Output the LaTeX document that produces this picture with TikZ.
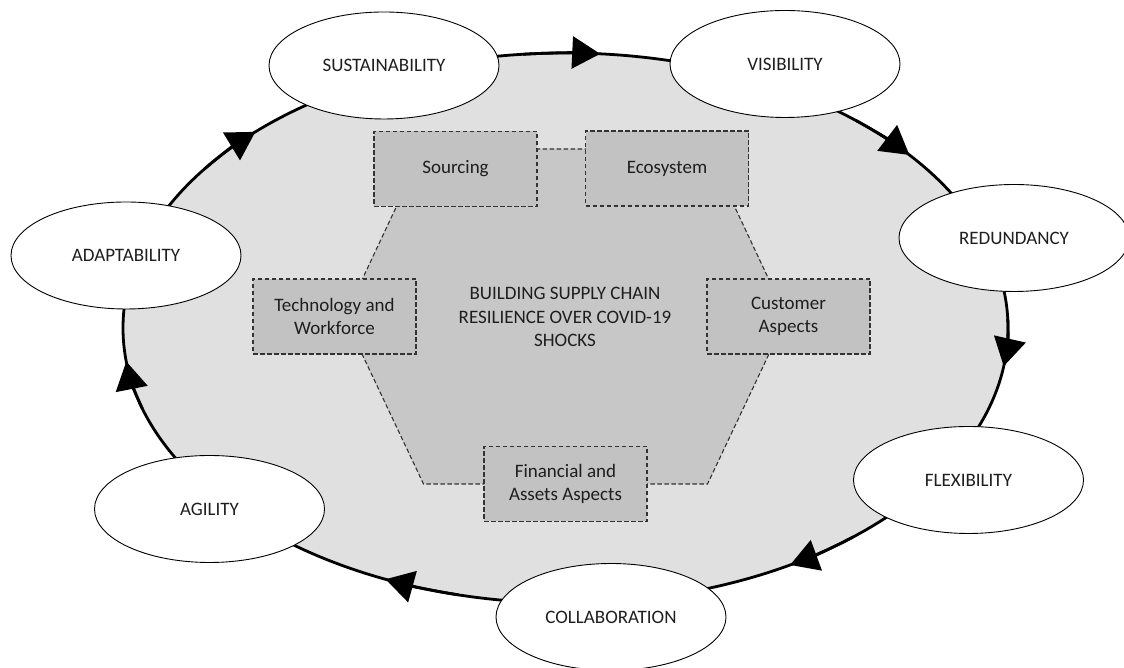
\documentclass[tikz,border=0pt]{standalone}
\usepackage{fontspec}
\setmainfont{Carlito}
\usetikzlibrary{shapes.geometric,arrows.meta,calc}
\definecolor{ringfill}{HTML}{E0E0E0}
\definecolor{hexfill}{HTML}{C7C7C7}
\definecolor{boxfill}{HTML}{C2C2C2}
\definecolor{inkgray}{HTML}{333333}
\definecolor{txt}{HTML}{1E1E1E}

\begin{document}
\begin{tikzpicture}[x=1pt,y=1pt,
  every node/.style={font=\fontsize{19}{23.5}\selectfont, text=txt},
  ring/.style={ellipse, draw=black, line width=2.8pt, fill=ringfill,
    minimum width=885pt, minimum height=550pt, inner sep=0pt},
  quality/.style={ellipse, draw=black, line width=0.9pt, fill=white,
    minimum width=230pt, minimum height=107pt, inner sep=0pt},
  dashedge/.style={draw=inkgray, dash pattern=on 4.5pt off 2.5pt, line width=1.1pt},
  focus/.style={rectangle, dashedge, fill=boxfill, minimum width=163pt,
    minimum height=75pt, inner sep=2pt, align=center},
  hexarea/.style={dashedge, fill=hexfill},
  flow/.style={line width=2.8pt, -{Triangle[length=28pt,width=32pt]}}
]
\useasboundingbox (0,0) rectangle (1124,668);

% outer cycle
\node[ring] (ring) at (565.5,340) {};

% central hexagon
\coordinate (h1) at (423.5,519);
\coordinate (h2) at (707.5,519);
\coordinate (h3) at (786.5,351);
\coordinate (h4) at (707.5,184);
\coordinate (h5) at (423.5,184);
\coordinate (h6) at (344.5,351);
\draw[hexarea] (h1) -- (h2) -- (h3) -- (h4) -- (h5) -- (h6) -- cycle;

% focus areas on the hexagon
\node[focus] (sourcing)  at (455.5,499)   {Sourcing};
\node[focus] (ecosystem) at (667,499.5)   {Ecosystem};
\node[focus] (techwf)    at (334.5,351.5) {Technology and\\Workforce};
\node[focus] (customer)  at (788.5,351.5) {Customer\\Aspects};
\node[focus] (finance)   at (565.5,184)   {Financial and\\Assets Aspects};

\node[align=center] (core) at (565,351)
  {BUILDING SUPPLY CHAIN\\RESILIENCE OVER COVID-19\\SHOCKS};

% direction arrows along the cycle
\foreach \t [evaluate=\t as \s using \t+10] in {85.5,39,-8,-59.5,-114,-173,134.5}
  \draw[flow] ($(ring.center)+(\s:442.5pt and 275pt)$)
    arc[start angle=\s, end angle=\t, x radius=442.5pt, y radius=275pt];

% resilience capabilities
\node[quality] (sust)   at (384,602.5)   {SUSTAINABILITY};
\node[quality] (vis)    at (785,604)     {VISIBILITY};
\node[quality] (red)    at (1014,430)    {REDUNDANCY};
\node[quality] (flex)   at (968.5,188)   {FLEXIBILITY};
\node[quality] (collab) at (611,51)      {COLLABORATION};
\node[quality] (agil)   at (209.5,159)   {AGILITY};
\node[quality] (adapt)  at (126,412.5)   {ADAPTABILITY};
\end{tikzpicture}
\end{document}
